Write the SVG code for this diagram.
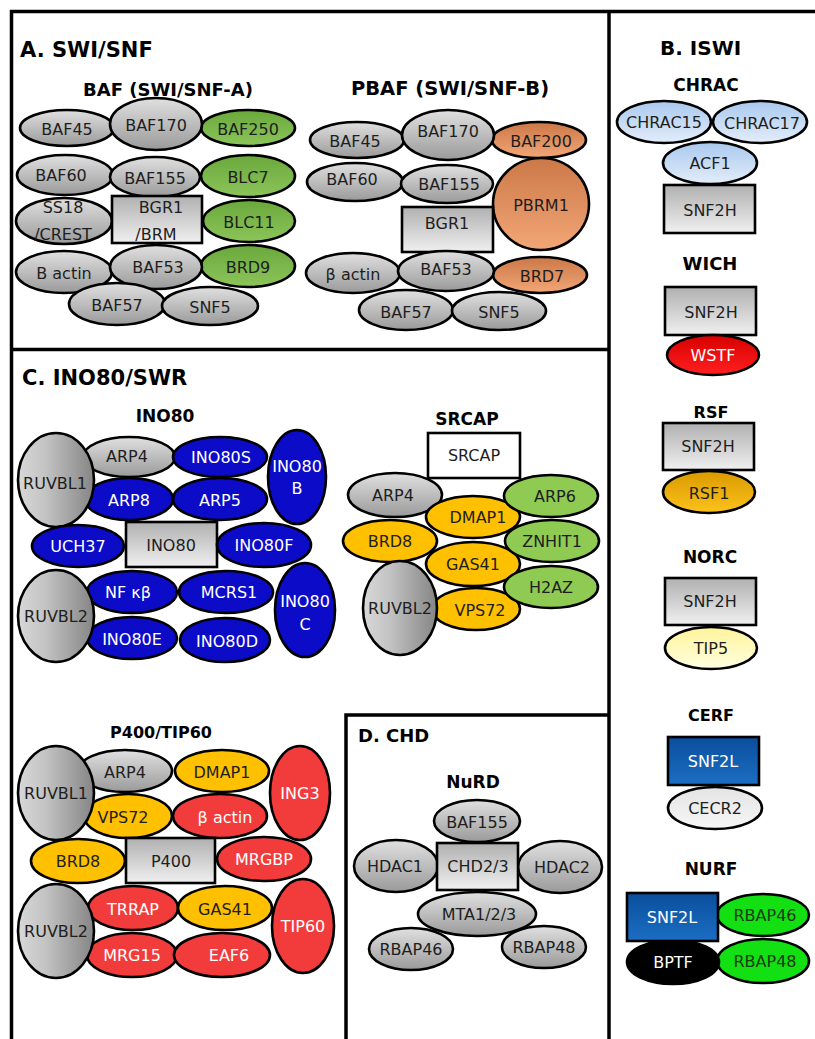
<svg xmlns="http://www.w3.org/2000/svg" width="815" height="1039" viewBox="0 0 815 1039">
<defs>
<linearGradient id="gGray" x1="0" y1="0" x2="0" y2="1"><stop offset="0" stop-color="#e0e0e0"/><stop offset="1" stop-color="#9a9a9a"/></linearGradient>
<linearGradient id="gRuv" x1="0" y1="0" x2="1" y2="0"><stop offset="0" stop-color="#d8d8d8"/><stop offset="0.35" stop-color="#c4c4c4"/><stop offset="1" stop-color="#858585"/></linearGradient>
<linearGradient id="gRect" x1="0" y1="0" x2="0" y2="1"><stop offset="0" stop-color="#b0b0b0"/><stop offset="1" stop-color="#f0f0f0"/></linearGradient>
<linearGradient id="gGreenA" x1="0" y1="0" x2="0" y2="1"><stop offset="0" stop-color="#6aa83c"/><stop offset="1" stop-color="#8cc55a"/></linearGradient>
<linearGradient id="gBrown" x1="0" y1="0" x2="0" y2="1"><stop offset="0" stop-color="#cc7848"/><stop offset="1" stop-color="#f2a676"/></linearGradient>
<linearGradient id="gLBlue" x1="0" y1="0" x2="0" y2="1"><stop offset="0" stop-color="#a9c8ee"/><stop offset="1" stop-color="#e3edfa"/></linearGradient>
<linearGradient id="gRed" x1="0" y1="0" x2="0" y2="1"><stop offset="0" stop-color="#d80000"/><stop offset="1" stop-color="#ff2020"/></linearGradient>
<linearGradient id="gRsf" x1="0" y1="0" x2="0" y2="1"><stop offset="0" stop-color="#db9a00"/><stop offset="1" stop-color="#fbc21c"/></linearGradient>
<linearGradient id="gTip" x1="0" y1="0" x2="0" y2="1"><stop offset="0" stop-color="#fff39a"/><stop offset="1" stop-color="#ffffe0"/></linearGradient>
<linearGradient id="gSnf2l" x1="0" y1="0" x2="0" y2="1"><stop offset="0" stop-color="#0a4e9c"/><stop offset="1" stop-color="#1c6ec4"/></linearGradient>
<linearGradient id="gCecr" x1="0" y1="0" x2="0" y2="1"><stop offset="0" stop-color="#e4e4e4"/><stop offset="1" stop-color="#f6f6f6"/></linearGradient>
</defs>
<style>
.n ellipse, .n rect { stroke:#000; stroke-width:2.6; }
text { font-family:"DejaVu Sans","Liberation Sans",sans-serif; }
.l { font-size:16px; text-anchor:middle; fill:#1e1e1e; }
.w { fill:#ffffff; }
.dg { fill:#1c3a10; }
.t { font-size:17px; font-weight:bold; text-anchor:middle; fill:#000; }
.s { font-size:21px; font-weight:bold; fill:#000; }
.frame { stroke:#000; stroke-width:3.5; fill:none; }
.gray { fill:url(#gGray); }
.ruv { fill:url(#gRuv); }
.rct { fill:url(#gRect); }
.grA { fill:url(#gGreenA); }
.brn { fill:url(#gBrown); }
.lb { fill:url(#gLBlue); }
.blu { fill:#0b0bc8; }
.gold { fill:#ffc000; }
.gr2 { fill:#8fcb52; }
.red { fill:#f23c3c; }
.bg { fill:#12e012; }
</style>

<g id="frame">
<path class="frame" d="M11.5,1039 V11.5 H815"/>
<line class="frame" x1="609" y1="10" x2="609" y2="1039"/>
<line class="frame" x1="10" y1="349.5" x2="609" y2="349.5"/>
<path class="frame" d="M346,1039 V715 H609"/>
</g>

<g id="titles">
<text class="s" x="20" y="57">A. SWI/SNF</text>
<text class="t" x="168" y="96" style="font-size:18px">BAF (SWI/SNF-A)</text>
<text class="t" x="450" y="95" style="font-size:19.5px">PBAF (SWI/SNF-B)</text>
<text class="s" x="660" y="55" style="font-size:20px">B. ISWI</text>
<text class="t" x="706" y="91">CHRAC</text>
<text class="t" x="710" y="270" style="font-size:18px">WICH</text>
<text class="t" x="711" y="418" style="font-size:16px">RSF</text>
<text class="t" x="710" y="563">NORC</text>
<text class="t" x="711" y="721" style="font-size:16px">CERF</text>
<text class="t" x="711" y="875">NURF</text>
<text class="s" x="22" y="385">C. INO80/SWR</text>
<text class="t" x="165" y="422">INO80</text>
<text class="t" x="467" y="425">SRCAP</text>
<text class="t" x="161" y="738" style="font-size:16px">P400/TIP60</text>
<text class="s" x="358" y="742" style="font-size:18px">D. CHD</text>
<text class="t" x="473" y="788">NuRD</text>
</g>

<!-- A. BAF -->
<g id="baf-baf45" class="n"><ellipse class="gray" cx="67" cy="128" rx="47" ry="18"/><text class="l" x="67" y="135">BAF45</text></g>
<g id="baf-baf250" class="n"><ellipse class="grA" cx="248" cy="128" rx="47" ry="18"/><text class="l" x="248" y="135">BAF250</text></g>
<g id="baf-baf170" class="n"><ellipse class="gray" cx="156" cy="124" rx="46" ry="26"/><text class="l" x="156" y="131">BAF170</text></g>
<g id="baf-baf60" class="n"><ellipse class="gray" cx="65" cy="175" rx="48" ry="20"/><text class="l" x="61" y="181">BAF60</text></g>
<g id="baf-blc7" class="n"><ellipse class="grA" cx="248" cy="176" rx="47" ry="21"/><text class="l" x="248" y="183">BLC7</text></g>
<g id="baf-baf155" class="n"><ellipse class="gray" cx="155" cy="177" rx="45" ry="20"/><text class="l" x="155" y="184">BAF155</text></g>
<g id="baf-ss18" class="n"><ellipse class="gray" cx="64" cy="221" rx="48" ry="23"/><text class="l" x="63" y="213">SS18</text><text class="l" x="63" y="240">/CREST</text></g>
<g id="baf-bgr1" class="n"><rect class="rct" x="112" y="196" width="90" height="47"/><text class="l" x="161" y="213">BGR1</text><text class="l" x="156" y="240">/BRM</text></g>
<g id="baf-blc11" class="n"><ellipse class="grA" cx="249" cy="221" rx="46" ry="21"/><text class="l" x="249" y="228">BLC11</text></g>
<g id="baf-bactin" class="n"><ellipse class="gray" cx="64" cy="272" rx="48" ry="21"/><text class="l" x="64" y="279">B actin</text></g>
<g id="baf-brd9" class="n"><ellipse class="grA" cx="248" cy="266" rx="47" ry="21"/><text class="l" x="248" y="273">BRD9</text></g>
<g id="baf-baf53" class="n"><ellipse class="gray" cx="156" cy="267" rx="46" ry="22"/><text class="l" x="158" y="273">BAF53</text></g>
<g id="baf-baf57" class="n"><ellipse class="gray" cx="117" cy="304" rx="48" ry="21"/><text class="l" x="117" y="311">BAF57</text></g>
<g id="baf-snf5" class="n"><ellipse class="gray" cx="210" cy="306" rx="48" ry="19"/><text class="l" x="210" y="313">SNF5</text></g>

<!-- A. PBAF -->
<g id="pbaf-baf45" class="n"><ellipse class="gray" cx="357" cy="140" rx="47" ry="18"/><text class="l" x="355" y="147">BAF45</text></g>
<g id="pbaf-baf200" class="n"><ellipse class="brn" cx="539" cy="140" rx="47" ry="18"/><text class="l" x="541" y="147">BAF200</text></g>
<g id="pbaf-baf170" class="n"><ellipse class="gray" cx="448" cy="135" rx="46" ry="25"/><text class="l" x="448" y="137">BAF170</text></g>
<g id="pbaf-baf60" class="n"><ellipse class="gray" cx="355" cy="182" rx="48" ry="19"/><text class="l" x="352" y="185">BAF60</text></g>
<g id="pbaf-baf155" class="n"><ellipse class="gray" cx="447" cy="184" rx="46" ry="19"/><text class="l" x="449" y="190">BAF155</text></g>
<g id="pbaf-pbrm1" class="n"><ellipse class="brn" cx="541" cy="204" rx="48" ry="46"/><text class="l" x="541" y="211">PBRM1</text></g>
<g id="pbaf-bgr1" class="n"><rect class="rct" x="402" y="207" width="91" height="45"/><text class="l" x="447" y="229">BGR1</text></g>
<g id="pbaf-bactin" class="n"><ellipse class="gray" cx="353" cy="273" rx="47" ry="20"/><text class="l" x="353" y="280">β actin</text></g>
<g id="pbaf-brd7" class="n"><ellipse class="brn" cx="540" cy="275" rx="47" ry="18"/><text class="l" x="542" y="282">BRD7</text></g>
<g id="pbaf-baf53" class="n"><ellipse class="gray" cx="446" cy="271" rx="48" ry="20"/><text class="l" x="446" y="275">BAF53</text></g>
<g id="pbaf-baf57" class="n"><ellipse class="gray" cx="406" cy="310" rx="47" ry="20"/><text class="l" x="406" y="318">BAF57</text></g>
<g id="pbaf-snf5" class="n"><ellipse class="gray" cx="499" cy="311" rx="47" ry="19"/><text class="l" x="499" y="318">SNF5</text></g>

<!-- B. ISWI -->
<g id="chrac-chrac15" class="n"><ellipse class="lb" cx="664" cy="122" rx="47" ry="21"/><text class="l" x="664" y="128">CHRAC15</text></g>
<g id="chrac-chrac17" class="n"><ellipse class="lb" cx="760" cy="122" rx="47" ry="21"/><text class="l" x="762" y="129">CHRAC17</text></g>
<g id="chrac-acf1" class="n"><ellipse class="lb" cx="710" cy="163" rx="47" ry="21"/><text class="l" x="710" y="169">ACF1</text></g>
<g id="chrac-snf2h" class="n"><rect class="rct" x="664" y="185" width="91" height="48"/><text class="l" x="710" y="216">SNF2H</text></g>
<g id="wich-snf2h" class="n"><rect class="rct" x="665" y="287" width="91" height="48"/><text class="l" x="711" y="318">SNF2H</text></g>
<g id="wich-wstf" class="n"><ellipse fill="url(#gRed)" cx="713" cy="355" rx="46" ry="20"/><text class="l w" x="713" y="361">WSTF</text></g>
<g id="rsf-snf2h" class="n"><rect class="rct" x="663" y="423" width="91" height="47"/><text class="l" x="708" y="452">SNF2H</text></g>
<g id="rsf-rsf1" class="n"><ellipse fill="url(#gRsf)" cx="709" cy="492" rx="46" ry="21"/><text class="l" x="709" y="499">RSF1</text></g>
<g id="norc-snf2h" class="n"><rect class="rct" x="665" y="578" width="91" height="47"/><text class="l" x="710" y="607">SNF2H</text></g>
<g id="norc-tip5" class="n"><ellipse fill="url(#gTip)" cx="711" cy="648" rx="46" ry="21"/><text class="l" x="711" y="654">TIP5</text></g>
<g id="cerf-snf2l" class="n"><rect fill="url(#gSnf2l)" x="668" y="737" width="91" height="48"/><text class="l w" x="713" y="767">SNF2L</text></g>
<g id="cerf-cecr2" class="n"><ellipse fill="url(#gCecr)" cx="715" cy="808" rx="47" ry="21"/><text class="l" x="715" y="814">CECR2</text></g>
<g id="nurf-rbap46" class="n"><ellipse class="bg" cx="763" cy="915" rx="46" ry="21"/><text class="l dg" x="765" y="921">RBAP46</text></g>
<g id="nurf-rbap48" class="n"><ellipse class="bg" cx="763" cy="961" rx="46" ry="22"/><text class="l dg" x="765" y="967">RBAP48</text></g>
<g id="nurf-bptf" class="n"><ellipse fill="#000" cx="673" cy="962" rx="46" ry="22"/><text class="l w" x="673" y="968">BPTF</text></g>
<g id="nurf-snf2l" class="n"><rect fill="url(#gSnf2l)" x="627" y="893" width="91" height="48"/><text class="l w" x="672" y="923">SNF2L</text></g>

<!-- C. INO80 -->
<g id="ino-arp4" class="n"><ellipse class="gray" cx="129" cy="457" rx="46" ry="20"/><text class="l" x="127" y="462">ARP4</text></g>
<g id="ino-ino80s" class="n"><ellipse class="blu" cx="220" cy="457" rx="47" ry="20"/><text class="l w" x="221" y="463">INO80S</text></g>
<g id="ino-arp8" class="n"><ellipse class="blu" cx="129" cy="499" rx="44" ry="21"/><text class="l w" x="129" y="506">ARP8</text></g>
<g id="ino-arp5" class="n"><ellipse class="blu" cx="220" cy="499" rx="47" ry="21"/><text class="l w" x="220" y="506">ARP5</text></g>
<g id="ino-ino80b" class="n"><ellipse class="blu" cx="297" cy="477" rx="29" ry="47"/><text class="l w" x="297" y="472">INO80</text><text class="l w" x="297" y="494">B</text></g>
<g id="ino-ruvbl1" class="n"><ellipse class="ruv" cx="56" cy="480" rx="38" ry="47"/><text class="l" x="55" y="489">RUVBL1</text></g>
<g id="ino-uch37" class="n"><ellipse class="blu" cx="78" cy="546" rx="46" ry="21"/><text class="l w" x="78" y="552">UCH37</text></g>
<g id="ino-ino80" class="n"><rect class="rct" x="126" y="522" width="91" height="45"/><text class="l" x="171" y="551">INO80</text></g>
<g id="ino-ino80f" class="n"><ellipse class="blu" cx="264" cy="545" rx="47" ry="22"/><text class="l w" x="264" y="551">INO80F</text></g>
<g id="ino-nfkb" class="n"><ellipse class="blu" cx="132" cy="592" rx="45" ry="21"/><text class="l w" x="128" y="598">NF κβ</text></g>
<g id="ino-mcrs1" class="n"><ellipse class="blu" cx="226" cy="592" rx="47" ry="21"/><text class="l w" x="229" y="598">MCRS1</text></g>
<g id="ino-ino80e" class="n"><ellipse class="blu" cx="132" cy="638" rx="45" ry="21"/><text class="l w" x="132" y="645">INO80E</text></g>
<g id="ino-ino80d" class="n"><ellipse class="blu" cx="225" cy="640" rx="45" ry="22"/><text class="l w" x="227" y="647">INO80D</text></g>
<g id="ino-ino80c" class="n"><ellipse class="blu" cx="305" cy="610" rx="30" ry="47"/><text class="l w" x="305" y="607">INO80</text><text class="l w" x="305" y="630">C</text></g>
<g id="ino-ruvbl2" class="n"><ellipse class="ruv" cx="56" cy="616" rx="38" ry="46"/><text class="l" x="56" y="622">RUVBL2</text></g>

<!-- C. SRCAP -->
<g id="srcap-srcap" class="n"><rect fill="#fff" x="428" y="433" width="92" height="45"/><text class="l" x="474" y="461">SRCAP</text></g>
<g id="srcap-arp4" class="n"><ellipse class="gray" cx="395" cy="495" rx="47" ry="22"/><text class="l" x="393" y="501">ARP4</text></g>
<g id="srcap-brd8" class="n"><ellipse class="gold" cx="390" cy="541" rx="47" ry="21"/><text class="l" x="390" y="547">BRD8</text></g>
<g id="srcap-dmap1" class="n"><ellipse class="gold" cx="473" cy="517" rx="47" ry="21"/><text class="l" x="478" y="523">DMAP1</text></g>
<g id="srcap-gas41" class="n"><ellipse class="gold" cx="473" cy="564" rx="47" ry="22"/><text class="l" x="473" y="570">GAS41</text></g>
<g id="srcap-vps72" class="n"><ellipse class="gold" cx="476" cy="609" rx="44" ry="21"/><text class="l" x="480" y="616">VPS72</text></g>
<g id="srcap-arp6" class="n"><ellipse class="gr2" cx="551" cy="496" rx="47" ry="21"/><text class="l" x="555" y="502">ARP6</text></g>
<g id="srcap-znhit1" class="n"><ellipse class="gr2" cx="552" cy="541" rx="47" ry="21"/><text class="l" x="552" y="547">ZNHIT1</text></g>
<g id="srcap-h2az" class="n"><ellipse class="gr2" cx="551" cy="587" rx="47" ry="21"/><text class="l" x="551" y="593">H2AZ</text></g>
<g id="srcap-ruvbl2" class="n"><ellipse class="ruv" cx="400" cy="608" rx="37" ry="47"/><text class="l" x="400" y="614">RUVBL2</text></g>

<!-- C. P400/TIP60 -->
<g id="p400-arp4" class="n"><ellipse class="gray" cx="125" cy="771" rx="47" ry="21"/><text class="l" x="125" y="778">ARP4</text></g>
<g id="p400-dmap1" class="n"><ellipse class="gold" cx="222" cy="771" rx="47" ry="21"/><text class="l" x="222" y="778">DMAP1</text></g>
<g id="p400-vps72" class="n"><ellipse class="gold" cx="128" cy="816" rx="44" ry="22"/><text class="l" x="123" y="823">VPS72</text></g>
<g id="p400-bactin" class="n"><ellipse class="red" cx="220" cy="816" rx="47" ry="22"/><text class="l w" x="225" y="823">β actin</text></g>
<g id="p400-ing3" class="n"><ellipse class="red" cx="300" cy="793" rx="30" ry="47"/><text class="l w" x="300" y="799">ING3</text></g>
<g id="p400-ruvbl1" class="n"><ellipse class="ruv" cx="56" cy="793" rx="38" ry="47"/><text class="l" x="56" y="799">RUVBL1</text></g>
<g id="p400-brd8" class="n"><ellipse class="gold" cx="78" cy="861" rx="47" ry="22"/><text class="l" x="78" y="867">BRD8</text></g>
<g id="p400-p400" class="n"><rect class="rct" x="126" y="838" width="89" height="45"/><text class="l" x="171" y="867">P400</text></g>
<g id="p400-mrgbp" class="n"><ellipse class="red" cx="264" cy="859" rx="47" ry="22"/><text class="l w" x="264" y="865">MRGBP</text></g>
<g id="p400-trrap" class="n"><ellipse class="red" cx="133" cy="908" rx="45" ry="22"/><text class="l w" x="133" y="915">TRRAP</text></g>
<g id="p400-gas41" class="n"><ellipse class="gold" cx="225" cy="908" rx="47" ry="22"/><text class="l" x="225" y="915">GAS41</text></g>
<g id="p400-mrg15" class="n"><ellipse class="red" cx="132" cy="955" rx="45" ry="22"/><text class="l w" x="132" y="961">MRG15</text></g>
<g id="p400-eaf6" class="n"><ellipse class="red" cx="222" cy="955" rx="48" ry="22"/><text class="l w" x="229" y="961">EAF6</text></g>
<g id="p400-tip60" class="n"><ellipse class="red" cx="303" cy="926" rx="31" ry="47"/><text class="l w" x="303" y="932">TIP60</text></g>
<g id="p400-ruvbl2" class="n"><ellipse class="ruv" cx="56" cy="931" rx="38" ry="47"/><text class="l" x="56" y="937">RUVBL2</text></g>

<!-- D. CHD / NuRD -->
<g id="nurd-baf155" class="n"><ellipse class="gray" cx="477" cy="821" rx="43" ry="21"/><text class="l" x="477" y="828">BAF155</text></g>
<g id="nurd-hdac1" class="n"><ellipse class="gray" cx="396" cy="866" rx="42" ry="26"/><text class="l" x="395" y="872">HDAC1</text></g>
<g id="nurd-hdac2" class="n"><ellipse class="gray" cx="560" cy="867" rx="42" ry="26"/><text class="l" x="562" y="873">HDAC2</text></g>
<g id="nurd-chd23" class="n"><rect class="rct" x="437" y="843" width="81" height="47"/><text class="l" x="478" y="872">CHD2/3</text></g>
<g id="nurd-rbap46" class="n"><ellipse class="gray" cx="411" cy="949" rx="42" ry="21"/><text class="l" x="411" y="955">RBAP46</text></g>
<g id="nurd-rbap48" class="n"><ellipse class="gray" cx="544" cy="947" rx="42" ry="21"/><text class="l" x="544" y="953">RBAP48</text></g>
<g id="nurd-mta" class="n"><ellipse class="gray" cx="477" cy="914" rx="59" ry="22"/><text class="l" x="479" y="920">MTA1/2/3</text></g>

<g id="connectors"></g>
</svg>
